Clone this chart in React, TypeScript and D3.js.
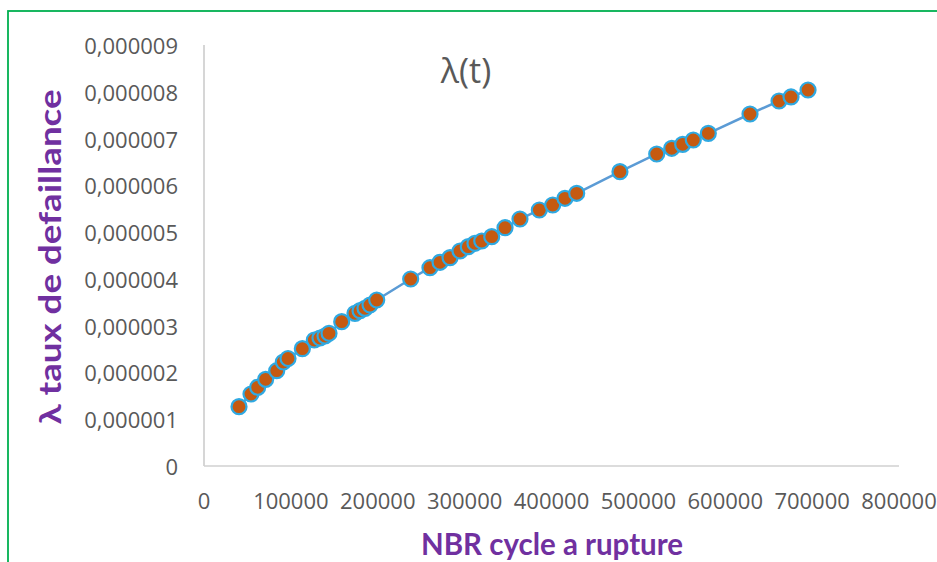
import React from "react";
import * as d3 from "d3";

// Cycles to rupture (x) and failure rate λ(t) (y)
const cycles = [
  40300, 54100, 61800, 71000, 83700, 91300, 96700, 113200, 127000, 133500,
  139300, 143900, 158500, 173800, 179600, 185300, 191100, 198800, 237900,
  260100, 271700, 283200, 294700, 304200, 311900, 319700, 331200, 346500,
  363700, 386000, 401400, 415500, 429000, 478800, 521100, 538400, 551000,
  563200, 580500, 628500, 661900, 675700, 695300,
];
const lambda = [
  1.268e-6, 1.539e-6, 1.682e-6, 1.853e-6, 2.037e-6, 2.223e-6, 2.298e-6,
  2.508e-6, 2.694e-6, 2.736e-6, 2.779e-6, 2.837e-6, 3.085e-6, 3.264e-6,
  3.32e-6, 3.371e-6, 3.442e-6, 3.549e-6, 3.998e-6, 4.239e-6, 4.355e-6,
  4.453e-6, 4.596e-6, 4.688e-6, 4.761e-6, 4.81e-6, 4.902e-6, 5.094e-6,
  5.28e-6, 5.473e-6, 5.58e-6, 5.723e-6, 5.83e-6, 6.292e-6, 6.67e-6,
  6.792e-6, 6.877e-6, 6.969e-6, 7.112e-6, 7.525e-6, 7.803e-6, 7.889e-6,
  8.038e-6,
];

const xTicks = [0, 100000, 200000, 300000, 400000, 500000, 600000, 700000, 800000];
const xTickLabels = ["0", "100000", "200000", "300000", "400000", "500000", "600000", "700000", "800000"];
const yTicks = [0, 1e-6, 2e-6, 3e-6, 4e-6, 5e-6, 6e-6, 7e-6, 8e-6, 9e-6];
const yTickLabels = [
  "0", "0,000001", "0,000002", "0,000003", "0,000004",
  "0,000005", "0,000006", "0,000007", "0,000008", "0,000009",
];

const chartTitle = "λ(t)";
const xTitle = "NBR cycle a rupture";
const yTitle = "λ taux de defaillance";

const W = 937;
const H = 562;

export default function App() {
  const x = d3.scaleLinear().domain([0, 800000]).range([204, 899]);
  const y = d3.scaleLinear().domain([0, 9e-6]).range([466, 45]);

  const pts = cycles.map((c, i) => [c, lambda[i]] as [number, number]);
  const line = d3
    .line<[number, number]>()
    .x((d) => x(d[0]))
    .y((d) => y(d[1]));

  const tickFont = "'Open Sans', 'Liberation Sans', sans-serif";
  const titleFont = "Lato, 'Liberation Sans', sans-serif";

  return (
    <svg
      width={W}
      height={H}
      style={{ position: "absolute", left: 0, top: 0, background: "#fff" }}
    >
      <rect x={0} y={0} width={W} height={H} fill="#fff" />
      {/* chart area border */}
      <rect x={8} y={11} width={W + 20} height={H + 20} fill="none" stroke="#00B050" strokeWidth={1.8} />

      {/* axes */}
      <line x1={x(0)} x2={x(0)} y1={y(9e-6)} y2={y(0)} stroke="#C8C8C8" strokeWidth={1.5} />
      <line x1={x(0)} x2={x(800000)} y1={y(0)} y2={y(0)} stroke="#D0D0D0" strokeWidth={1.5} />

      {/* y tick labels */}
      {yTicks.map((t, i) => (
        <text
          key={"y" + i}
          x={178}
          y={y(t)}
          textAnchor="end"
          dominantBaseline="central"
          fontFamily={tickFont}
          fontSize={22}
          fill="#595959"
        >
          {yTickLabels[i]}
        </text>
      ))}

      {/* x tick labels */}
      {xTicks.map((t, i) => (
        <text
          key={"x" + i}
          x={x(t)}
          y={500}
          textAnchor="middle"
          dominantBaseline="central"
          fontFamily={tickFont}
          fontSize={22}
          fill="#595959"
        >
          {xTickLabels[i]}
        </text>
      ))}

      {/* series */}
      <path d={line(pts) ?? ""} fill="none" stroke="#5B9BD5" strokeWidth={2.5} />
      {pts.map((p, i) => (
        <circle
          key={"p" + i}
          cx={x(p[0])}
          cy={y(p[1])}
          r={7.5}
          fill="#C55A11"
          stroke="#2FA9E2"
          strokeWidth={2.2}
        />
      ))}

      {/* chart title */}
      <text
        x={466}
        y={70}
        textAnchor="middle"
        dominantBaseline="central"
        fontFamily={tickFont}
        fontSize={34}
        fill="#595959"
      >
        {chartTitle}
      </text>

      {/* axis titles */}
      <text
        x={552}
        y={543}
        textAnchor="middle"
        dominantBaseline="central"
        fontFamily={titleFont}
        fontWeight="bold"
        fontSize={30}
        fill="#7030A0"
        textLength={262}
        lengthAdjust="spacingAndGlyphs"
      >
        {xTitle}
      </text>
      <text
        transform={`translate(49,257) rotate(-90)`}
        textAnchor="middle"
        dominantBaseline="central"
        fontFamily={titleFont}
        fontWeight="bold"
        fontSize={31}
        fill="#7030A0"
        textLength={335}
        lengthAdjust="spacingAndGlyphs"
      >
        {yTitle}
      </text>
    </svg>
  );
}
